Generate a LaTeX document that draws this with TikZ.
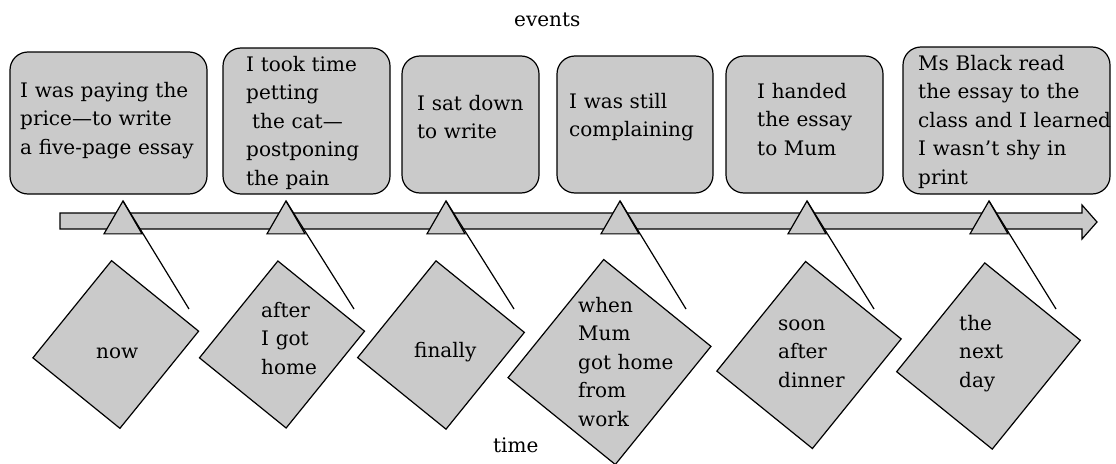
\documentclass[tikz,border=0pt]{standalone}
\usepackage{fontspec}
\setmainfont{DejaVu Serif}
\usepackage{xcolor}
\definecolor{boxgray}{HTML}{CACACA}
\usetikzlibrary{shapes,positioning}

\begin{document}
\begin{tikzpicture}[
        x=1pt, y=-1pt,
        font=\fontsize{20}{28.5}\selectfont,
        evbox/.style={rectangle, draw, fill=boxgray, rounded corners=18pt, line width=1.2pt, inner sep=0pt},
        tmbox/.style={rectangle, draw, fill=boxgray, rotate=-39, line width=1.2pt, inner sep=0pt},
        evtext/.style={anchor=base west, text width=220pt, align=left, inner sep=0pt},
        pointer/.style={regular polygon, regular polygon sides=3, draw, fill=boxgray, minimum size=43.9pt, inner sep=0pt, outer sep=0pt, line width=1.2pt},
        pointerline/.style={line width=1.2pt}
    ]
        \useasboundingbox (0,0) rectangle (1116,463);

        % Headings
        \node[evtext] (events) at (514,26) {events};
        \node[evtext] (time) at (493,452) {time};

        % Events
        \node[evbox, minimum width=197pt, minimum height=142pt] (e1) at (108.5,123) {};
        \node[evbox, minimum width=167pt, minimum height=146pt] (e2) at (306.5,121) {};
        \node[evbox, minimum width=137pt, minimum height=137pt] (e3) at (470.5,124.5) {};
        \node[evbox, minimum width=156pt, minimum height=137pt] (e4) at (635,124.5) {};
        \node[evbox, minimum width=157pt, minimum height=137pt] (e5) at (804.5,124.5) {};
        \node[evbox, minimum width=207pt, minimum height=147pt] (e6) at (1006.5,120.5) {};

        \node[evtext] (e1text) at (20,97) {I was paying the\\price—to write\\a five-page essay};
        \node[evtext] (e2text) at (246,71) {I took time\\petting\\\hspace{0.3em}the cat—\\postponing\\the pain};
        \node[evtext] (e3text) at (417,110) {I sat down\\to write};
        \node[evtext] (e4text) at (569,108) {I was still\\complaining};
        \node[evtext] (e5text) at (757,98) {I handed\\the essay\\to Mum};
        \node[evtext] (e6text) at (918,70) {Ms Black read\\the essay to the\\class and I learned\\I wasn’t shy in\\print};

        % Timeline
        \filldraw[fill=boxgray, line width=1.2pt] (60,213) -- (1082,213) -- (1082,205) -- (1097,222)
            -- (1082,239) -- (1082,229) -- (60,229) -- cycle;

        % Pointers
        \node[pointer] (p1) at (123,222.9) {};
        \node[pointer] (p2) at (286,222.9) {};
        \node[pointer] (p3) at (446,222.9) {};
        \node[pointer] (p4) at (620,222.9) {};
        \node[pointer] (p5) at (807,222.9) {};
        \node[pointer] (p6) at (989,222.9) {};

        % Times
        \node[tmbox, minimum width=112pt, minimum height=125pt] (t1) at (115.75,344.5) {};
        \node[tmbox, minimum width=111.5pt, minimum height=124.6pt] (t2) at (282,344.5) {};
        \node[tmbox, minimum width=113.7pt, minimum height=124.5pt] (t3) at (441,345) {};
        \node[tmbox, minimum width=138pt, minimum height=152pt] (t4) at (609.5,362) {};
        \node[tmbox, minimum width=123pt, minimum height=141pt] (t5) at (809,355) {};
        \node[tmbox, minimum width=123pt, minimum height=140pt] (t6) at (988.5,356) {};

        \node[evtext] (t1text) at (96,358) {now};
        \node[evtext] (t2text) at (261,317) {after\\I got\\home};
        \node[evtext] (t3text) at (414,357) {finally};
        \node[evtext] (t4text) at (578,312) {when\\Mum\\got home\\from\\work};
        \node[evtext] (t5text) at (778,330) {soon\\after\\dinner};
        \node[evtext] (t6text) at (959,330) {the\\next\\day};

        % Lines
        \coordinate (c1) at (189,309);
        \coordinate (c2) at (354,309);
        \coordinate (c3) at (514,309);
        \coordinate (c4) at (686,309);
        \coordinate (c5) at (874,309);
        \coordinate (c6) at (1056,309);
        \draw[pointerline] (p1.corner 1) -- (c1);
        \draw[pointerline] (p2.corner 1) -- (c2);
        \draw[pointerline] (p3.corner 1) -- (c3);
        \draw[pointerline] (p4.corner 1) -- (c4);
        \draw[pointerline] (p5.corner 1) -- (c5);
        \draw[pointerline] (p6.corner 1) -- (c6);

    \end{tikzpicture}
\end{document}
